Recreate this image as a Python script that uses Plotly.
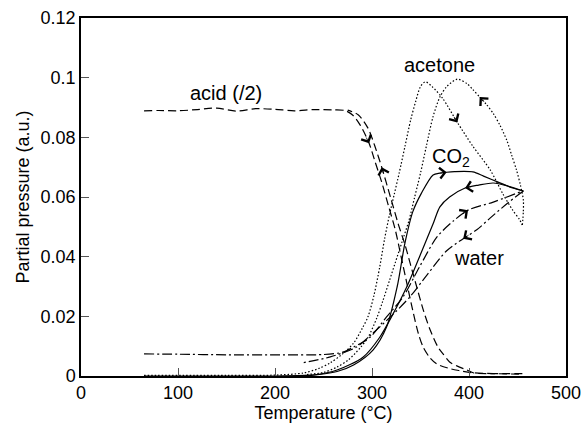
import math
import plotly.graph_objects as go

# ---------------- data ----------------
acid_heat_T = [65, 80, 100, 120, 140, 160, 180, 200, 220, 240, 260, 272, 280, 288, 297, 303, 310, 317, 324, 330, 336, 342, 348, 353, 360, 367, 380, 390, 403, 425, 455]
acid_heat_P = [0.0889, 0.0890, 0.0889, 0.0893, 0.0898, 0.0888, 0.0896, 0.0894, 0.0889, 0.0893, 0.0892, 0.0890, 0.0875, 0.0840, 0.0780, 0.0720, 0.0650, 0.0570, 0.0490, 0.0400, 0.0310, 0.0220, 0.0140, 0.0095, 0.0060, 0.0040, 0.0025, 0.0018, 0.0011, 0.0008, 0.0006]

acid_cool_T = [455, 430, 405, 398, 388, 380, 373, 368, 360, 353, 346, 340, 334, 327, 319, 310, 303, 296, 286, 275]
acid_cool_P = [0.0008, 0.0008, 0.0010, 0.0020, 0.0033, 0.0047, 0.0075, 0.0097, 0.0154, 0.0220, 0.0300, 0.0370, 0.0440, 0.0510, 0.0600, 0.0700, 0.0770, 0.0830, 0.0875, 0.0891]

acetone_heat_T = [65, 150, 200, 229, 245, 257, 270, 281, 290, 296, 302, 308, 313, 318, 323, 328, 334, 340, 345, 350, 355, 362, 373, 388, 404, 422, 435, 445, 452, 455]
acetone_heat_P = [0.0002, 0.0002, 0.0003, 0.0010, 0.0025, 0.0044, 0.0075, 0.0110, 0.0160, 0.0200, 0.0270, 0.0366, 0.0460, 0.0540, 0.0610, 0.0680, 0.0770, 0.0860, 0.0920, 0.0970, 0.0986, 0.0970, 0.0930, 0.0850, 0.0770, 0.0690, 0.0610, 0.0556, 0.0525, 0.0506]

acetone_cool_T = [455, 456, 456, 453, 449, 444, 439, 432, 425, 418, 411, 404, 398, 388, 377, 370, 363, 356, 350, 344, 338, 331, 324, 318, 311, 305, 296, 288, 276, 264, 250, 233]
acetone_cool_P = [0.0506, 0.0550, 0.0590, 0.0640, 0.0690, 0.0740, 0.0790, 0.0840, 0.0880, 0.0910, 0.0935, 0.0960, 0.0980, 0.0995, 0.0970, 0.0935, 0.0870, 0.0770, 0.0680, 0.0600, 0.0520, 0.0450, 0.0380, 0.0320, 0.0250, 0.0195, 0.0130, 0.0095, 0.0055, 0.0030, 0.0012, 0.0005]

co2_heat_T = [65, 200, 230, 246, 264, 281, 301, 315, 326, 334, 342, 351, 363, 370, 377, 385, 404, 415, 430, 445, 456]
co2_heat_P = [0.0000, 0.0000, 0.0002, 0.0005, 0.0015, 0.0037, 0.0087, 0.0164, 0.0300, 0.0446, 0.0550, 0.0613, 0.0674, 0.0680, 0.0683, 0.0685, 0.0684, 0.0670, 0.0650, 0.0630, 0.0620]

co2_cool_T = [456, 440, 425, 410, 396, 380, 370, 363, 349, 336, 322, 308, 291, 264, 239, 230]
co2_cool_P = [0.0620, 0.0637, 0.0647, 0.0640, 0.0630, 0.0600, 0.0567, 0.0510, 0.0400, 0.0300, 0.0210, 0.0130, 0.0064, 0.0020, 0.0003, 0.0001]

water_heat_T = [65, 100, 150, 200, 250, 270, 281, 298, 315, 332, 349, 367, 384, 399, 425, 453, 456]
water_heat_P = [0.0074, 0.0073, 0.0071, 0.0071, 0.0072, 0.0080, 0.0097, 0.0130, 0.0198, 0.0265, 0.0366, 0.0466, 0.0520, 0.0556, 0.0583, 0.0617, 0.0620]

water_cool_T = [456, 440, 422, 408, 394, 377, 357, 339, 319, 301, 284, 257, 228]
water_cool_P = [0.0620, 0.0580, 0.0530, 0.0490, 0.0460, 0.0420, 0.0340, 0.0265, 0.0198, 0.0144, 0.0097, 0.0064, 0.0044]

# index of the point on each branch where the direction chevron sits
arrow_at = {
    "acid_heat": 14, "acid_cool": 15,
    "acetone_heat": 23, "acetone_cool": 10,
    "co2_heat": 14, "co2_cool": 4,
    "water_heat": 13, "water_cool": 4,
}

labels = [
    ("acid (/2)", 149, 0.0949),
    ("acetone", 370, 0.1043),
    ("CO<sub>2</sub>", 381, 0.0734),
    ("water", 410, 0.0396),
]

x_ticks = [0, 100, 200, 300, 400, 500]
y_ticks = [0, 0.02, 0.04, 0.06, 0.08, 0.1, 0.12]
y_ticktext = ["0", "0.02", "0.04", "0.06", "0.08", "0.1", "0.12"]
x_range = [0, 500]
y_range = [0, 0.12]

# ---------------- figure ----------------
W, H = 587, 426
ML, MR, MT, MB = 81, 21, 18, 50
FONT = "Liberation Sans, Arial, sans-serif"
# pixel scale of the plot area (used only to orient the chevrons along the curves)
sx = (W - ML - MR) / (x_range[1] - x_range[0])
sy = (H - MT - MB) / (y_range[1] - y_range[0])

series = [
    ("acid_heat", acid_heat_T, acid_heat_P, "8px,4px"),
    ("acid_cool", acid_cool_T, acid_cool_P, "8px,4px"),
    ("acetone_heat", acetone_heat_T, acetone_heat_P, "1.5px,2px"),
    ("acetone_cool", acetone_cool_T, acetone_cool_P, "1.5px,2px"),
    ("co2_heat", co2_heat_T, co2_heat_P, "solid"),
    ("co2_cool", co2_cool_T, co2_cool_P, "solid"),
    ("water_heat", water_heat_T, water_heat_P, "10px,3px,2px,3px"),
    ("water_cool", water_cool_T, water_cool_P, "10px,3px,2px,3px"),
]

fig = go.Figure()
annotations = []
for name, T, P, dash in series:
    fig.add_trace(go.Scatter(
        x=T, y=P, mode="lines", name=name, showlegend=False,
        line=dict(color="black", width=1.2, dash=dash, shape="spline", smoothing=0.8),
        hoverinfo="skip",
    ))
    i = arrow_at[name]
    dx = (T[i] - T[i - 1]) * sx
    dy = -(P[i] - P[i - 1]) * sy
    n = math.hypot(dx, dy)
    L = 7
    annotations.append(dict(
        x=T[i], y=P[i], ax=-dx / n * L, ay=-dy / n * L, xref="x", yref="y",
        axref="pixel", ayref="pixel",
        showarrow=True, arrowhead=4, arrowsize=2.6, arrowwidth=0.8, arrowcolor="black",
        text="", font=dict(size=1), standoff=0, borderpad=0,
    ))

for txt, tx, ty in labels:
    annotations.append(dict(
        x=tx, y=ty, xref="x", yref="y", text=txt, showarrow=False,
        font=dict(family=FONT, size=20, color="black"),
        xanchor="center", yanchor="middle",
    ))

fig.update_layout(
    width=W, height=H,
    margin=dict(l=ML, r=MR, t=MT, b=MB, autoexpand=False),
    paper_bgcolor="white", plot_bgcolor="white",
    font=dict(family=FONT, size=18, color="black"),
    annotations=annotations,
)
fig.update_xaxes(
    range=x_range, tickvals=x_ticks, ticks="inside", ticklen=8, tickcolor="#555",
    showline=True, linecolor="black", linewidth=1.5, mirror=True, showgrid=False, zeroline=False,
    title=dict(text="Temperature (°C)", font=dict(size=18), standoff=4),
    tickfont=dict(size=18), automargin=False,
)
fig.update_yaxes(
    range=y_range, tickvals=y_ticks, ticktext=y_ticktext, ticks="inside", ticklen=8, tickcolor="#555",
    showline=True, linecolor="black", linewidth=1.5, mirror=True, showgrid=False, zeroline=False,
    title=dict(text="Partial pressure (a.u.)", font=dict(size=18), standoff=6),
    tickfont=dict(size=18), automargin=False,
)

fig.write_html("out.html")
